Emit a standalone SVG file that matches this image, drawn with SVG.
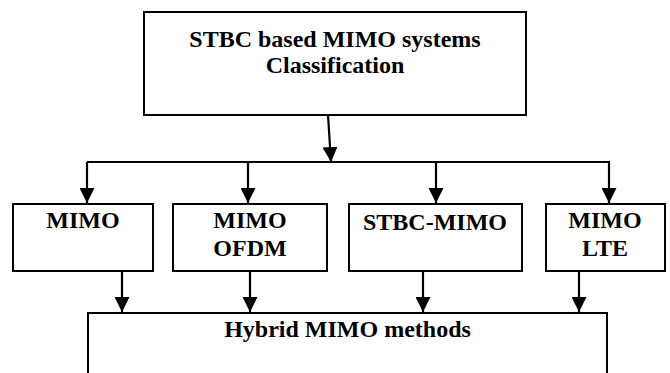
<svg xmlns="http://www.w3.org/2000/svg" width="670" height="373" viewBox="0 0 670 373">
  <style>
    .box { fill: #ffffff; stroke: #000000; stroke-width: 2; }
    .lbl { font-family: "Liberation Serif", "Times New Roman", serif; font-weight: bold; font-size: 24px; fill: #000000; text-anchor: middle; }
    .con { fill: none; stroke: #000000; stroke-width: 2.2; }
  </style>
  <defs>
    <marker id="arrow" viewBox="0 0 15 15" refX="15" refY="7.5" markerWidth="15" markerHeight="15" markerUnits="userSpaceOnUse" orient="auto">
      <path d="M0,0 L15,7.5 L0,15 z" fill="#000000"/>
    </marker>
  </defs>
  <rect width="670" height="373" fill="#ffffff"/>

  <g id="node-classification">
    <rect class="box" x="144" y="12" width="382" height="103"/>
    <text class="lbl" x="335" y="47">STBC based MIMO systems</text>
    <text class="lbl" x="335" y="73">Classification</text>
  </g>

  <g id="node-mimo">
    <rect class="box" x="13" y="204" width="140" height="67"/>
    <text class="lbl" x="83" y="228">MIMO</text>
  </g>

  <g id="node-mimo-ofdm">
    <rect class="box" x="173" y="204" width="154" height="67"/>
    <text class="lbl" x="250" y="228">MIMO</text>
    <text class="lbl" x="250" y="256">OFDM</text>
  </g>

  <g id="node-stbc-mimo">
    <rect class="box" x="349" y="204" width="173" height="67"/>
    <text class="lbl" x="435" y="230">STBC-MIMO</text>
  </g>

  <g id="node-mimo-lte">
    <rect class="box" x="546" y="204" width="119" height="67"/>
    <text class="lbl" x="605" y="228">MIMO</text>
    <text class="lbl" x="605" y="256">LTE</text>
  </g>

  <g id="node-hybrid">
    <rect class="box" x="88" y="313" width="519" height="80"/>
    <text class="lbl" x="347.5" y="337">Hybrid MIMO methods</text>
  </g>

  <g id="connectors">
    <line class="con" x1="328" y1="115" x2="331" y2="162" marker-end="url(#arrow)"/>
    <line class="con" x1="87" y1="162" x2="610" y2="162"/>
    <line class="con" x1="87" y1="162" x2="87" y2="203" marker-end="url(#arrow)"/>
    <line class="con" x1="248" y1="162" x2="248" y2="203" marker-end="url(#arrow)"/>
    <line class="con" x1="436" y1="162" x2="436" y2="203" marker-end="url(#arrow)"/>
    <line class="con" x1="609" y1="162" x2="609" y2="203" marker-end="url(#arrow)"/>
    <line class="con" x1="122" y1="271" x2="122" y2="312" marker-end="url(#arrow)"/>
    <line class="con" x1="250" y1="271" x2="250" y2="312" marker-end="url(#arrow)"/>
    <line class="con" x1="423" y1="271" x2="423" y2="312" marker-end="url(#arrow)"/>
    <line class="con" x1="579" y1="271" x2="579" y2="312" marker-end="url(#arrow)"/>
  </g>
</svg>
